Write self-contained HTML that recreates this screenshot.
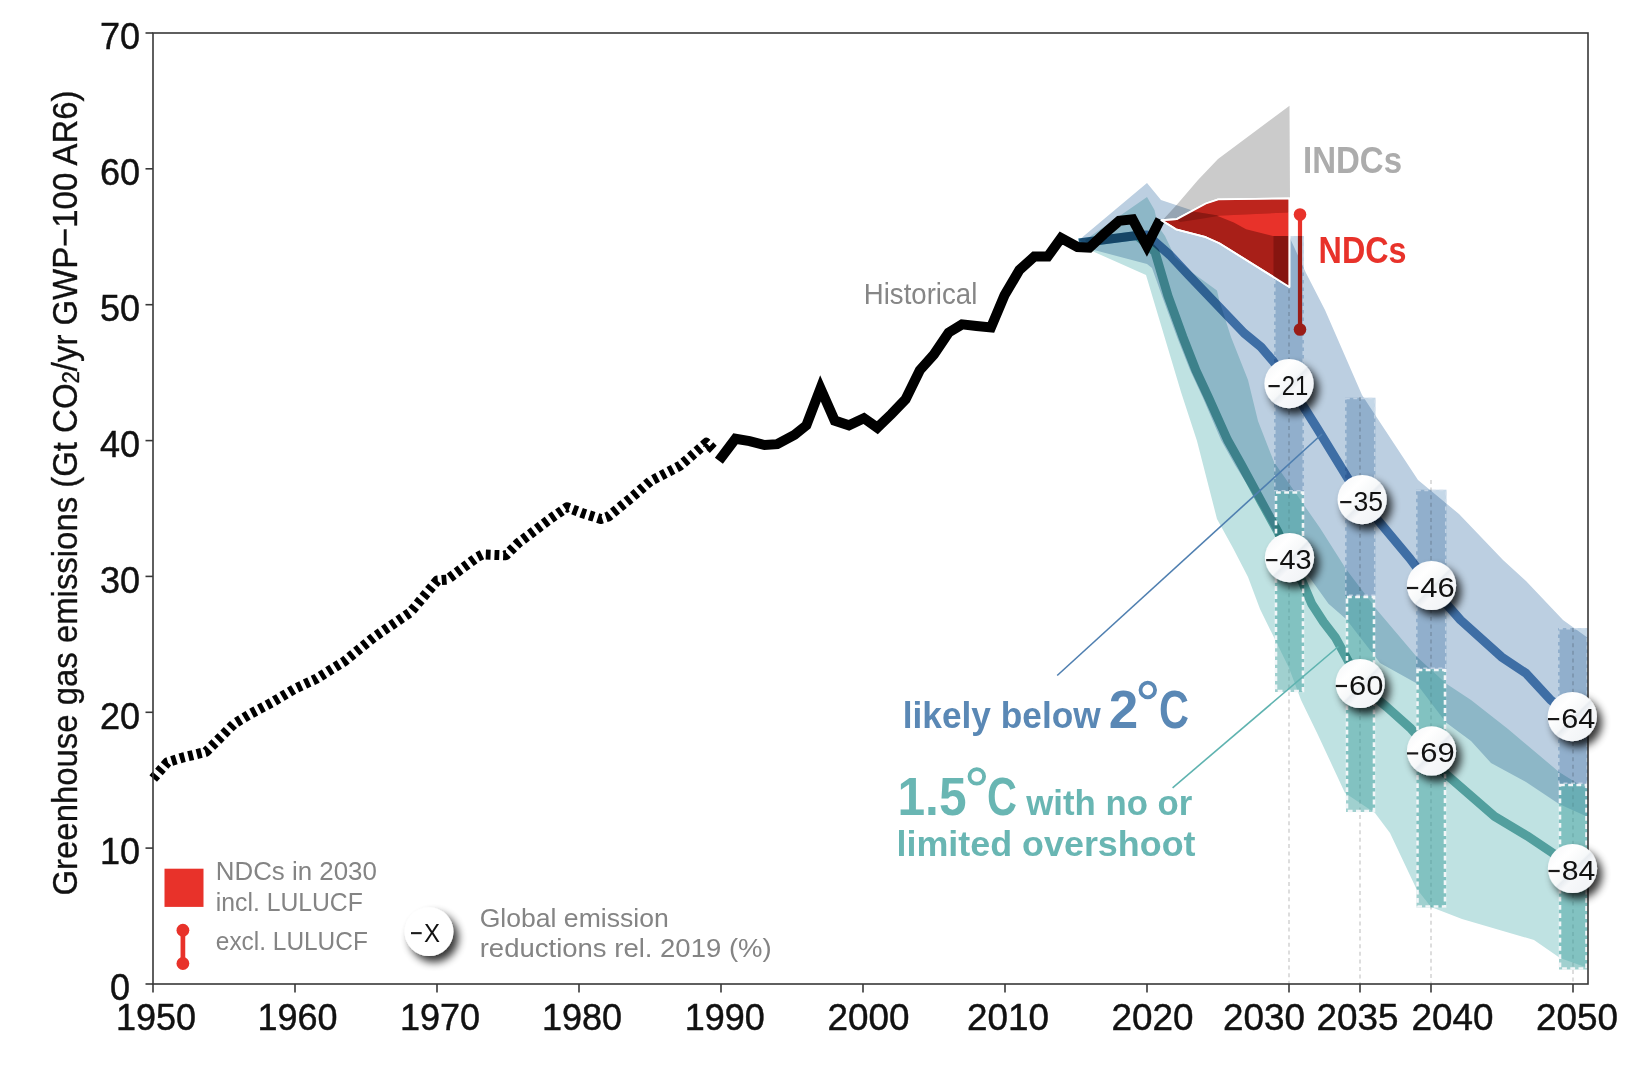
<!DOCTYPE html>
<html><head><meta charset="utf-8"><title>GHG emissions pathways</title>
<style>html,body{margin:0;padding:0;background:#fff;overflow:hidden}svg{display:block;font-family:"Liberation Sans",sans-serif}</style>
</head><body>
<svg width="1650" height="1074" viewBox="0 0 1650 1074">
<defs>
<filter id="sh" x="-50%" y="-50%" width="200%" height="200%"><feGaussianBlur in="SourceAlpha" stdDeviation="4.5"/><feOffset dx="5" dy="5.5" result="b"/><feComponentTransfer><feFuncA type="linear" slope="0.8"/></feComponentTransfer><feMerge><feMergeNode/><feMergeNode in="SourceGraphic"/></feMerge></filter>
<linearGradient id="cg" x1="0" y1="0" x2="1" y2="1"><stop offset="0" stop-color="#f3f5f7"/><stop offset="0.3" stop-color="#ffffff"/><stop offset="0.5" stop-color="#f6f8f9"/><stop offset="0.53" stop-color="#e8ecf0"/><stop offset="0.62" stop-color="#f7f8fa"/><stop offset="1" stop-color="#eef1f4"/></linearGradient>
<clipPath id="plot"><rect x="153" y="33" width="1435" height="951"/></clipPath>
</defs>
<rect width="1650" height="1074" fill="#fff"/>
<g clip-path="url(#plot)">
<g style="isolation:isolate">
<polygon points="1085.0,240.0 1147.0,197.0 1154.5,210.0 1158.0,226.0 1165.0,236.0 1175.0,257.0 1192.5,272.7 1217.0,290.6 1219.3,300.6 1231.0,337.0 1248.0,380.0 1258.0,421.0 1274.0,462.0 1320.0,528.0 1346.0,569.0 1377.0,610.0 1416.0,656.0 1446.0,683.5 1471.0,700.0 1508.0,729.0 1559.0,772.0 1588.0,790.0 1588.0,968.0 1560.0,958.0 1534.0,940.0 1462.0,919.0 1431.0,907.0 1416.0,888.0 1390.0,833.0 1375.0,813.0 1345.0,793.0 1318.0,735.0 1301.0,700.0 1289.0,668.0 1260.0,609.0 1248.0,577.0 1233.0,548.0 1217.0,519.0 1197.0,441.0 1181.0,392.0 1146.0,275.0 1092.0,251.0 1085.0,240.0" fill="#bfe2e2" style="mix-blend-mode:multiply"/>
<polygon points="1079.0,240.0 1147.0,183.0 1161.0,200.0 1191.0,210.0 1289.0,236.0 1306.0,273.0 1325.0,310.0 1362.0,395.0 1418.0,480.0 1459.0,514.0 1503.0,560.0 1526.0,581.0 1563.0,620.0 1588.0,638.0 1588.0,817.0 1559.0,804.0 1526.0,782.0 1491.0,763.0 1471.0,741.0 1446.0,722.5 1416.0,683.0 1380.0,663.0 1346.0,619.0 1328.5,603.7 1310.0,578.0 1289.0,558.0 1250.0,489.0 1235.0,465.0 1221.0,440.0 1203.0,398.0 1190.0,370.0 1177.0,337.0 1162.0,296.0 1152.0,268.0 1147.0,264.0 1094.0,250.0 1079.0,240.0" fill="#bccfe1" style="mix-blend-mode:multiply"/>
<polygon points="1162.3,220.5 1177.0,204.6 1198.0,180.0 1218.0,159.0 1289.5,105.7 1290.0,199.2 1218.2,200.1 1205.9,204.0 1176.8,219.1" fill="#cbcbcb" style="mix-blend-mode:multiply"/>
<line x1="1289" y1="236" x2="1289" y2="984" stroke="#d8d8d8" stroke-width="1.7" stroke-dasharray="4 3.6" style="mix-blend-mode:multiply"/>
<line x1="1360" y1="397" x2="1360" y2="984" stroke="#d8d8d8" stroke-width="1.7" stroke-dasharray="4 3.6" style="mix-blend-mode:multiply"/>
<line x1="1431" y1="480" x2="1431" y2="984" stroke="#d8d8d8" stroke-width="1.7" stroke-dasharray="4 3.6" style="mix-blend-mode:multiply"/>
<line x1="1573" y1="628" x2="1573" y2="984" stroke="#d8d8d8" stroke-width="1.7" stroke-dasharray="4 3.6" style="mix-blend-mode:multiply"/>
<rect x="1274" y="236" width="30" height="255.5" fill="#c5d8e8" style="mix-blend-mode:multiply"/>
<rect x="1274.8" y="236.8" width="28.4" height="253.9" fill="none" stroke="#d3e0ec" stroke-opacity="0.7" stroke-width="1.5" stroke-dasharray="4 3.5"/>
<rect x="1345" y="397.7" width="30.5" height="198.3" fill="#c5d8e8" style="mix-blend-mode:multiply"/>
<rect x="1345.8" y="398.5" width="28.9" height="196.70000000000002" fill="none" stroke="#d3e0ec" stroke-opacity="0.7" stroke-width="1.5" stroke-dasharray="4 3.5"/>
<rect x="1416" y="489.7" width="30.5" height="179.3" fill="#c5d8e8" style="mix-blend-mode:multiply"/>
<rect x="1416.8" y="490.5" width="28.9" height="177.70000000000002" fill="none" stroke="#d3e0ec" stroke-opacity="0.7" stroke-width="1.5" stroke-dasharray="4 3.5"/>
<rect x="1558" y="628" width="30" height="156" fill="#c5d8e8" style="mix-blend-mode:multiply"/>
<rect x="1558.8" y="628.8" width="28.4" height="154.4" fill="none" stroke="#d3e0ec" stroke-opacity="0.7" stroke-width="1.5" stroke-dasharray="4 3.5"/>
<rect x="1275" y="491.5" width="29" height="200.5" fill="#4ba7a4" fill-opacity="0.53"/>
<rect x="1346" y="596" width="29" height="216" fill="#4ba7a4" fill-opacity="0.53"/>
<rect x="1416.5" y="669" width="29.5" height="238.5" fill="#4ba7a4" fill-opacity="0.53"/>
<rect x="1559" y="784" width="28.5" height="185.5" fill="#4ba7a4" fill-opacity="0.53"/>
<polyline points="1079.0,243.0 1137.0,235.5 1147.0,244.0 1155.0,252.0 1168.0,296.0 1182.8,336.8 1195.9,370.4 1208.9,398.3 1227.5,440.0 1241.5,465.0 1262.0,503.0 1278.0,532.0 1289.0,558.0 1301.7,580.2 1311.8,604.0 1323.5,622.0 1335.2,637.2 1345.3,655.6 1353.0,670.0 1359.0,684.0 1386.8,707.0 1411.0,728.7 1431.0,751.0 1445.6,773.9 1494.5,816.3 1527.0,835.8 1556.4,855.4 1571.0,868.0" fill="none" stroke="#6db4b2" stroke-width="9" stroke-linejoin="round" style="mix-blend-mode:multiply"/>
<polyline points="1079.0,243.0 1137.0,235.5 1147.0,235.0 1169.8,255.0 1189.0,275.5 1244.0,333.0 1261.0,347.0 1273.0,361.0 1289.0,383.5 1317.0,428.0 1346.8,476.6 1361.7,500.8 1410.0,558.6 1431.0,586.5 1460.5,620.0 1501.5,656.9 1526.0,673.3 1550.7,700.0 1572.0,717.0" fill="none" stroke="#5487bb" stroke-width="9" stroke-linejoin="round" style="mix-blend-mode:multiply"/>
</g>
<rect x="1276" y="492.5" width="27" height="198.5" fill="none" stroke="#f2f6f8" stroke-width="2.6" stroke-dasharray="4.8 3.4"/>
<rect x="1347" y="597" width="27" height="214" fill="none" stroke="#f2f6f8" stroke-width="2.6" stroke-dasharray="4.8 3.4"/>
<rect x="1417.5" y="670" width="27.5" height="236.5" fill="none" stroke="#f2f6f8" stroke-width="2.6" stroke-dasharray="4.8 3.4"/>
<rect x="1560" y="785" width="26.5" height="183.5" fill="none" stroke="#f2f6f8" stroke-width="2.6" stroke-dasharray="4.8 3.4"/>
</g>
<polyline points="153.2,778.6 167.4,762.2 182.3,757.7 206.1,751.8 219.5,738.4 234.4,723.5 249.3,714.5 271.7,702.6 294.0,689.2 316.4,678.7 345.0,660.9 373.5,637.5 410.4,612.3 437.2,580.5 447.2,579.6 477.4,557.0 482.4,554.5 505.9,555.3 517.6,543.6 550.0,519.0 566.9,507.3 582.6,513.2 600.8,519.0 608.6,516.4 630.8,498.2 650.3,481.2 680.3,465.6 706.4,442.8 714.0,450.0" fill="none" stroke="#000" stroke-width="10" stroke-dasharray="4.8 3.9" stroke-linejoin="round"/>
<polyline points="718.9,460.8 735.5,438.7 749.6,441.1 764.6,445.0 777.2,444.2 794.5,434.8 806.4,425.3 820.5,388.3 834.7,420.6 848.9,425.3 863.9,418.2 877.3,427.7 891.5,414.0 905.6,399.3 919.8,370.2 934.0,354.4 948.6,332.6 962.0,324.4 976.5,326.0 991.0,327.4 1004.5,295.3 1019.4,270.0 1034.3,256.6 1047.7,256.6 1061.1,238.0 1077.5,247.0 1089.4,247.7 1104.0,234.0 1119.2,220.9 1132.6,219.4 1146.8,246.0 1160.2,219.4" fill="none" stroke="#000" stroke-width="10" stroke-linejoin="miter" stroke-miterlimit="3"/>
<polygon points="1161.5,220.2 1176.8,219.1 1205.9,203.5 1218.2,199.3 1289.4,198.5 1289.4,287.0 1219.3,243.2 1205.9,237.2 1176.0,229.3" fill="#a81f18" stroke="#fff" stroke-width="1.8" stroke-linejoin="round"/>
<polygon points="1176.8,219.1 1205.9,204.0 1218.2,200.1 1288.6,199.2 1288.6,212.4 1219.3,215.8 1191.4,211.3" fill="#bd251d"/>
<polygon points="1176.8,219.8 1191.4,211.3 1219.3,215.8 1200.0,219.0 1180.0,222.0" fill="#8c1812"/>
<polygon points="1217.0,215.8 1288.6,212.4 1288.6,236.0 1273.0,236.0 1246.1,229.2 1233.8,222.5" fill="#e8322a"/>
<polygon points="1273.5,236.0 1288.6,236.0 1288.6,286.2 1273.5,277.2" fill="#861510"/>
<polygon points="1161.5,220.2 1176.8,219.1 1205.9,203.5 1218.2,199.3 1289.4,198.5 1289.4,287.0 1219.3,243.2 1205.9,237.2 1176.0,229.3" fill="none" stroke="#fff" stroke-width="1.8" stroke-linejoin="round"/>
<line x1="1300" y1="214.5" x2="1300" y2="236" stroke="#e8322a" stroke-width="4.2"/>
<line x1="1300" y1="236" x2="1300" y2="329.5" stroke="#9a1d17" stroke-width="4.2"/>
<circle cx="1300" cy="214.5" r="6.3" fill="#e8322a"/>
<circle cx="1300" cy="329.5" r="6.3" fill="#9a1d17"/>
<line x1="1057.2" y1="675.5" x2="1322" y2="434" stroke="#4f7fb0" stroke-width="1.6"/>
<line x1="1172.6" y1="787.8" x2="1338.4" y2="646.5" stroke="#5fb3b0" stroke-width="1.6"/>
<g stroke="#383838" stroke-width="1.6" fill="none">
<rect x="153" y="33" width="1435" height="951"/>
<line x1="145.5" y1="984.0" x2="153" y2="984.0"/>
<line x1="145.5" y1="848.1" x2="153" y2="848.1"/>
<line x1="145.5" y1="712.3" x2="153" y2="712.3"/>
<line x1="145.5" y1="576.4" x2="153" y2="576.4"/>
<line x1="145.5" y1="440.6" x2="153" y2="440.6"/>
<line x1="145.5" y1="304.7" x2="153" y2="304.7"/>
<line x1="145.5" y1="168.8" x2="153" y2="168.8"/>
<line x1="145.5" y1="33.0" x2="153" y2="33.0"/>
<line x1="153.0" y1="984" x2="153.0" y2="992.5"/>
<line x1="295.0" y1="984" x2="295.0" y2="992.5"/>
<line x1="437.0" y1="984" x2="437.0" y2="992.5"/>
<line x1="579.0" y1="984" x2="579.0" y2="992.5"/>
<line x1="721.0" y1="984" x2="721.0" y2="992.5"/>
<line x1="863.0" y1="984" x2="863.0" y2="992.5"/>
<line x1="1005.0" y1="984" x2="1005.0" y2="992.5"/>
<line x1="1147.0" y1="984" x2="1147.0" y2="992.5"/>
<line x1="1289.0" y1="984" x2="1289.0" y2="992.5"/>
<line x1="1360.0" y1="984" x2="1360.0" y2="992.5"/>
<line x1="1431.0" y1="984" x2="1431.0" y2="992.5"/>
<line x1="1573.0" y1="984" x2="1573.0" y2="992.5"/>
</g>
<g font-size="36" fill="#111" stroke="#111" stroke-width="0.45" text-anchor="middle">
<text x="120" y="1000.3">0</text>
<text x="120" y="864.4">10</text>
<text x="120" y="728.6">20</text>
<text x="120" y="592.7">30</text>
<text x="120" y="456.9">40</text>
<text x="120" y="321.0">50</text>
<text x="120" y="185.1">60</text>
<text x="120" y="49.3">70</text>
</g>
<g font-size="36" fill="#111" stroke="#111" stroke-width="0.45" text-anchor="middle">
<text x="156.0" y="1029.8" textLength="80" lengthAdjust="spacingAndGlyphs">1950</text>
<text x="297.6" y="1029.8" textLength="80" lengthAdjust="spacingAndGlyphs">1960</text>
<text x="440.0" y="1029.8" textLength="80" lengthAdjust="spacingAndGlyphs">1970</text>
<text x="582.0" y="1029.8" textLength="80" lengthAdjust="spacingAndGlyphs">1980</text>
<text x="724.7" y="1029.8" textLength="80" lengthAdjust="spacingAndGlyphs">1990</text>
<text x="868.5" y="1029.8" textLength="82" lengthAdjust="spacingAndGlyphs">2000</text>
<text x="1008.0" y="1029.8" textLength="82" lengthAdjust="spacingAndGlyphs">2010</text>
<text x="1152.5" y="1029.8" textLength="82" lengthAdjust="spacingAndGlyphs">2020</text>
<text x="1264.0" y="1029.8" textLength="82" lengthAdjust="spacingAndGlyphs">2030</text>
<text x="1357.5" y="1029.8" textLength="82" lengthAdjust="spacingAndGlyphs">2035</text>
<text x="1452.5" y="1029.8" textLength="82" lengthAdjust="spacingAndGlyphs">2040</text>
<text x="1577.0" y="1029.8" textLength="82" lengthAdjust="spacingAndGlyphs">2050</text>
</g>
<text transform="translate(77,493) rotate(-90)" font-size="35.5" fill="#111" stroke="#111" stroke-width="0.35" text-anchor="middle" textLength="805" lengthAdjust="spacingAndGlyphs">Greenhouse gas emissions (Gt CO<tspan font-size="24" dy="2">2</tspan><tspan dy="-2">/yr GWP−100 AR6)</tspan></text>
<g filter="url(#sh)"><circle cx="1289" cy="383.6" r="24.6" fill="url(#cg)"/></g>
<rect x="1268.5" y="385.0" width="11.2" height="2.2" fill="#1a1a1a"/>
<text x="1281.8" y="394.6" font-size="28" fill="#111" textLength="26.6" lengthAdjust="spacingAndGlyphs">21</text>
<g filter="url(#sh)"><circle cx="1362.2" cy="499.6" r="24.6" fill="url(#cg)"/></g>
<rect x="1340.2" y="501.0" width="11.2" height="2.2" fill="#1a1a1a"/>
<text x="1353.5" y="510.6" font-size="28" fill="#111" textLength="29.6" lengthAdjust="spacingAndGlyphs">35</text>
<g filter="url(#sh)"><circle cx="1431.5" cy="585.5" r="24.6" fill="url(#cg)"/></g>
<rect x="1407.0" y="586.9" width="11.2" height="2.2" fill="#1a1a1a"/>
<text x="1420.3" y="596.5" font-size="28" fill="#111" textLength="34.5" lengthAdjust="spacingAndGlyphs">46</text>
<g filter="url(#sh)"><circle cx="1572.3" cy="716.6" r="24.6" fill="url(#cg)"/></g>
<rect x="1548.0" y="718.0" width="11.2" height="2.2" fill="#1a1a1a"/>
<text x="1561.3" y="727.6" font-size="28" fill="#111" textLength="34.1" lengthAdjust="spacingAndGlyphs">64</text>
<g filter="url(#sh)"><circle cx="1289.5" cy="557.6" r="24.6" fill="url(#cg)"/></g>
<rect x="1266.2" y="559.0" width="11.2" height="2.2" fill="#1a1a1a"/>
<text x="1279.5" y="568.6" font-size="28" fill="#111" textLength="32.2" lengthAdjust="spacingAndGlyphs">43</text>
<g filter="url(#sh)"><circle cx="1360.2" cy="683.5" r="24.6" fill="url(#cg)"/></g>
<rect x="1335.8" y="684.9" width="11.2" height="2.2" fill="#1a1a1a"/>
<text x="1349.1" y="694.5" font-size="28" fill="#111" textLength="34.4" lengthAdjust="spacingAndGlyphs">60</text>
<g filter="url(#sh)"><circle cx="1431.5" cy="750.9" r="24.6" fill="url(#cg)"/></g>
<rect x="1407.0" y="752.3" width="11.2" height="2.2" fill="#1a1a1a"/>
<text x="1420.3" y="761.9" font-size="28" fill="#111" textLength="34.5" lengthAdjust="spacingAndGlyphs">69</text>
<g filter="url(#sh)"><circle cx="1572.5" cy="868.5" r="24.6" fill="url(#cg)"/></g>
<rect x="1548.5" y="869.9" width="11.2" height="2.2" fill="#1a1a1a"/>
<text x="1561.8" y="879.5" font-size="28" fill="#111" textLength="33.6" lengthAdjust="spacingAndGlyphs">84</text>
<text x="863.8" y="303.8" font-size="28.8" fill="#868686" textLength="113.5" lengthAdjust="spacingAndGlyphs">Historical</text>
<text x="1303" y="172.6" font-size="36.5" font-weight="bold" fill="#acacac" textLength="99" lengthAdjust="spacingAndGlyphs">INDCs</text>
<text x="1318.6" y="263.4" font-size="36" font-weight="bold" fill="#e8322a" textLength="88" lengthAdjust="spacingAndGlyphs">NDCs</text>
<text x="902.7" y="728" font-size="36" font-weight="bold" fill="#5a88b5" textLength="198" lengthAdjust="spacingAndGlyphs">likely below</text>
<text x="1108.7" y="728" font-size="53" font-weight="bold" fill="#5a88b5">2</text>
<circle cx="1147.8" cy="690" r="7.3" fill="none" stroke="#5a88b5" stroke-width="3.8"/>
<text x="1159" y="728" font-size="53" font-weight="bold" fill="#5a88b5" textLength="30" lengthAdjust="spacingAndGlyphs">C</text>
<text x="897.5" y="814.5" font-size="53" font-weight="bold" fill="#69b6b3" textLength="69" lengthAdjust="spacingAndGlyphs">1.5</text>
<circle cx="976.8" cy="776.4" r="7.3" fill="none" stroke="#69b6b3" stroke-width="3.8"/>
<text x="987" y="814.5" font-size="53" font-weight="bold" fill="#69b6b3" textLength="30" lengthAdjust="spacingAndGlyphs">C</text>
<text x="1026.3" y="814.5" font-size="35" font-weight="bold" fill="#69b6b3" textLength="166" lengthAdjust="spacingAndGlyphs">with no or</text>
<text x="896.5" y="855.8" font-size="35" font-weight="bold" fill="#69b6b3" textLength="299" lengthAdjust="spacingAndGlyphs">limited overshoot</text>
<rect x="164.5" y="868.7" width="39" height="38.2" fill="#e8322a"/>
<g font-size="25.5" fill="#848484">
<text x="215.8" y="879.7" textLength="161" lengthAdjust="spacingAndGlyphs">NDCs in 2030</text>
<text x="215.8" y="910.5" textLength="147" lengthAdjust="spacingAndGlyphs">incl. LULUCF</text>
<text x="215.8" y="949.7" textLength="152" lengthAdjust="spacingAndGlyphs">excl. LULUCF</text>
<text x="479.7" y="927" textLength="189" lengthAdjust="spacingAndGlyphs">Global emission</text>
<text x="479.7" y="957.1" textLength="292" lengthAdjust="spacingAndGlyphs">reductions  rel. 2019 (%)</text>
</g>
<line x1="182.9" y1="930.2" x2="182.9" y2="963.5" stroke="#e8322a" stroke-width="4.7"/>
<circle cx="182.9" cy="930.2" r="6.4" fill="#e8322a"/>
<circle cx="182.9" cy="963.5" r="6.4" fill="#e8322a"/>
<g filter="url(#sh)"><circle cx="429" cy="931.7" r="24.4" fill="#fff"/></g>
<rect x="411" y="932.1" width="10.7" height="2.1" fill="#1a1a1a"/>
<text x="424" y="941.7" font-size="25.5" fill="#111" textLength="16" lengthAdjust="spacingAndGlyphs">X</text>
</svg>
</body></html>
